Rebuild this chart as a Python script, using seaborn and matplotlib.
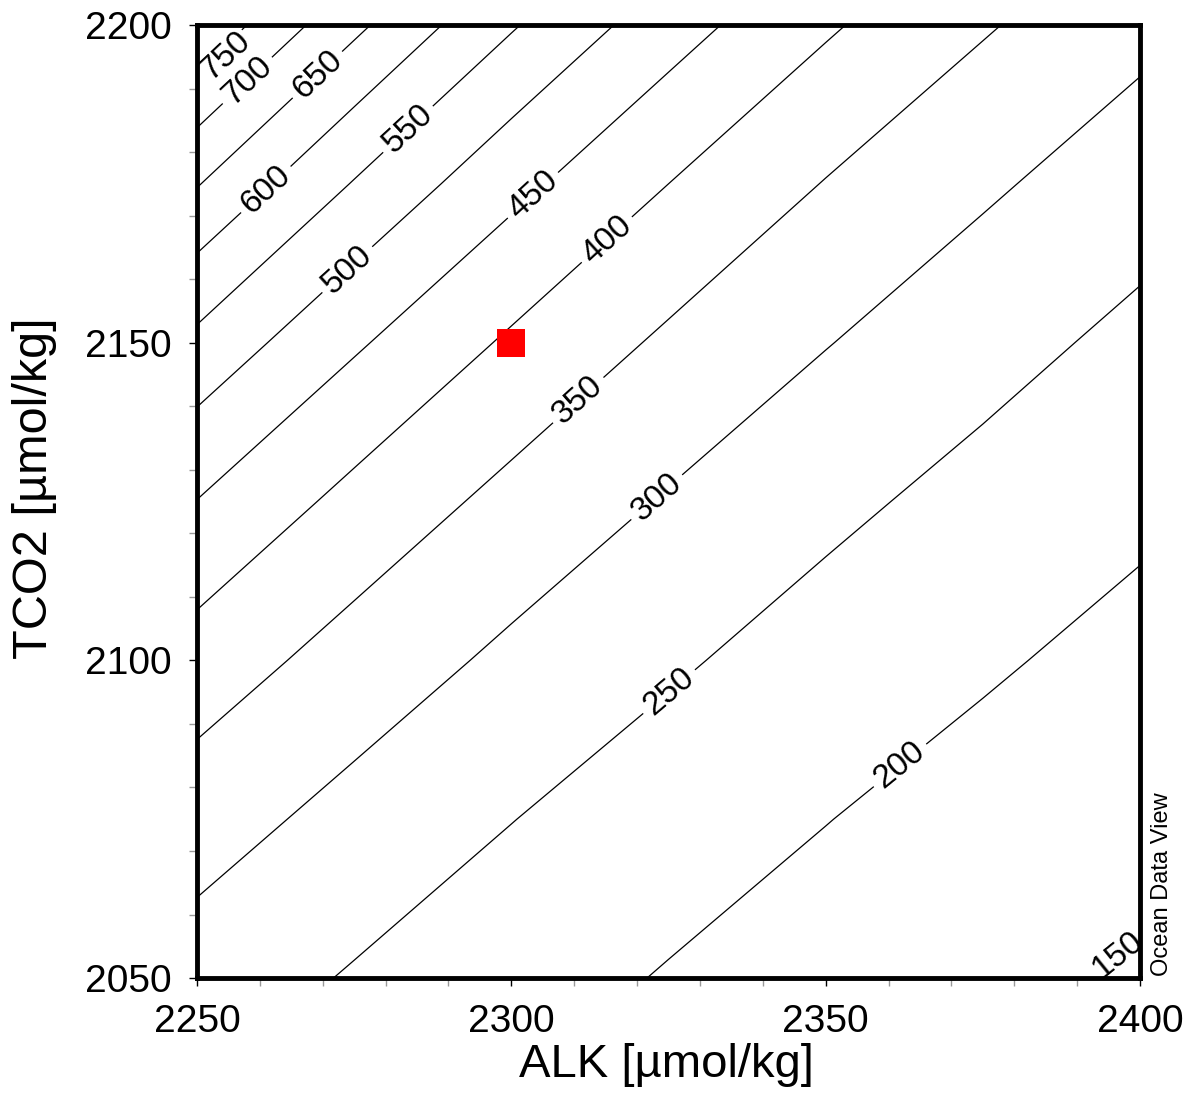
import numpy as np
import seaborn as sns
import matplotlib
matplotlib.use("Agg")
import matplotlib.pyplot as plt
from matplotlib.ticker import MultipleLocator

# grid nodes
alk = [2250, 2275, 2300, 2325, 2350, 2375, 2400]
tco2 = [2050, 2075, 2100, 2125, 2150, 2175, 2200]

# pCO2, rows = TCO2, cols = ALK
pco2 = [
    [278, 246, 220, 197, 179, 162, 147],
    [323, 284, 251, 224, 201, 182, 166],
    [379, 330, 290, 257, 229, 206, 186],
    [449, 386, 336, 296, 262, 234, 210],
    [538, 457, 393, 342, 302, 268, 238],
    [653, 547, 465, 400, 348, 308, 273],
    [795, 662, 555, 473, 407, 355, 314],
]

levels = [150, 200, 250, 300, 350, 400, 450, 500, 550, 600, 650, 700, 750]

# where the isoline labels sit (ALK, TCO2)
label_alk = [2395.0, 2361.8, 2324.9, 2322.4, 2310.6, 2315.2, 2303.8,
             2274.0, 2284.4, 2260.3, 2269.6, 2257.6, 2253.1]
label_tco2 = [2053.0, 2083.5, 2095.3, 2126.5, 2141.0, 2166.2, 2172.8,
              2161.4, 2182.7, 2174.8, 2191.7, 2191.7, 2195.7]

# corner labels sit a little off their line in the original
corner_labels = {"150": (2396.5, 2053.6), "750": (2254.6, 2195.1)}

# sample station
sample_alk = [2300]
sample_tco2 = [2150]

sns.set_theme(style="white")
plt.rcParams["font.family"] = ["Liberation Sans", "DejaVu Sans"]

fig = plt.figure(figsize=(11.89, 10.95), dpi=100)
ax = fig.add_axes([0.1657, 0.1068, 0.7931, 0.8704])

cs = ax.contour(alk, tco2, np.log(np.array(pco2, dtype=float)),
                levels=np.log(levels), colors="black", linewidths=0.9)
ax.clabel(cs, fmt=lambda v: f"{np.exp(v):.0f}",
          manual=list(zip(label_alk, label_tco2)),
          fontsize=24, inline=True, inline_spacing=6, colors="black")
for t in cs.labelTexts:
    if t.get_text() in corner_labels:
        t.set_position(corner_labels[t.get_text()])
        t.set_clip_on(False)
        t.set_zorder(4)

sns.scatterplot(x=sample_alk, y=sample_tco2, marker="s", s=430,
                color="red", linewidth=0, ax=ax, zorder=5)

ax.set_xlim(2250, 2400)
ax.set_ylim(2050, 2200)
ax.xaxis.set_major_locator(MultipleLocator(50))
ax.yaxis.set_major_locator(MultipleLocator(50))
ax.xaxis.set_minor_locator(MultipleLocator(10))
ax.yaxis.set_minor_locator(MultipleLocator(10))
ax.tick_params(which="major", direction="out", length=6, width=1,
               color="black", labelsize=28, labelcolor="black")
ax.tick_params(which="minor", direction="out", length=6, width=1,
               color="#999999")
ax.tick_params(axis="x", which="major", pad=13)
ax.tick_params(axis="y", which="major", pad=12)
ax.tick_params(axis="x", which="both", bottom=True)
ax.tick_params(axis="y", which="both", left=True)

for sp in ax.spines.values():
    sp.set_linewidth(3.5)
    sp.set_color("black")

ax.set_xlabel("ALK [µmol/kg]", fontsize=34, color="black")
ax.set_ylabel("TCO2 [µmol/kg]", fontsize=35, color="black")
ax.xaxis.set_label_coords(0.498, -0.068)
ax.yaxis.set_label_coords(-0.148, 0.514)

fig.text(0.977, 0.109, "Ocean Data View", rotation=90, ha="center",
         va="bottom", fontsize=17, color="black")

fig.savefig("out.png", dpi=100, facecolor="white")
